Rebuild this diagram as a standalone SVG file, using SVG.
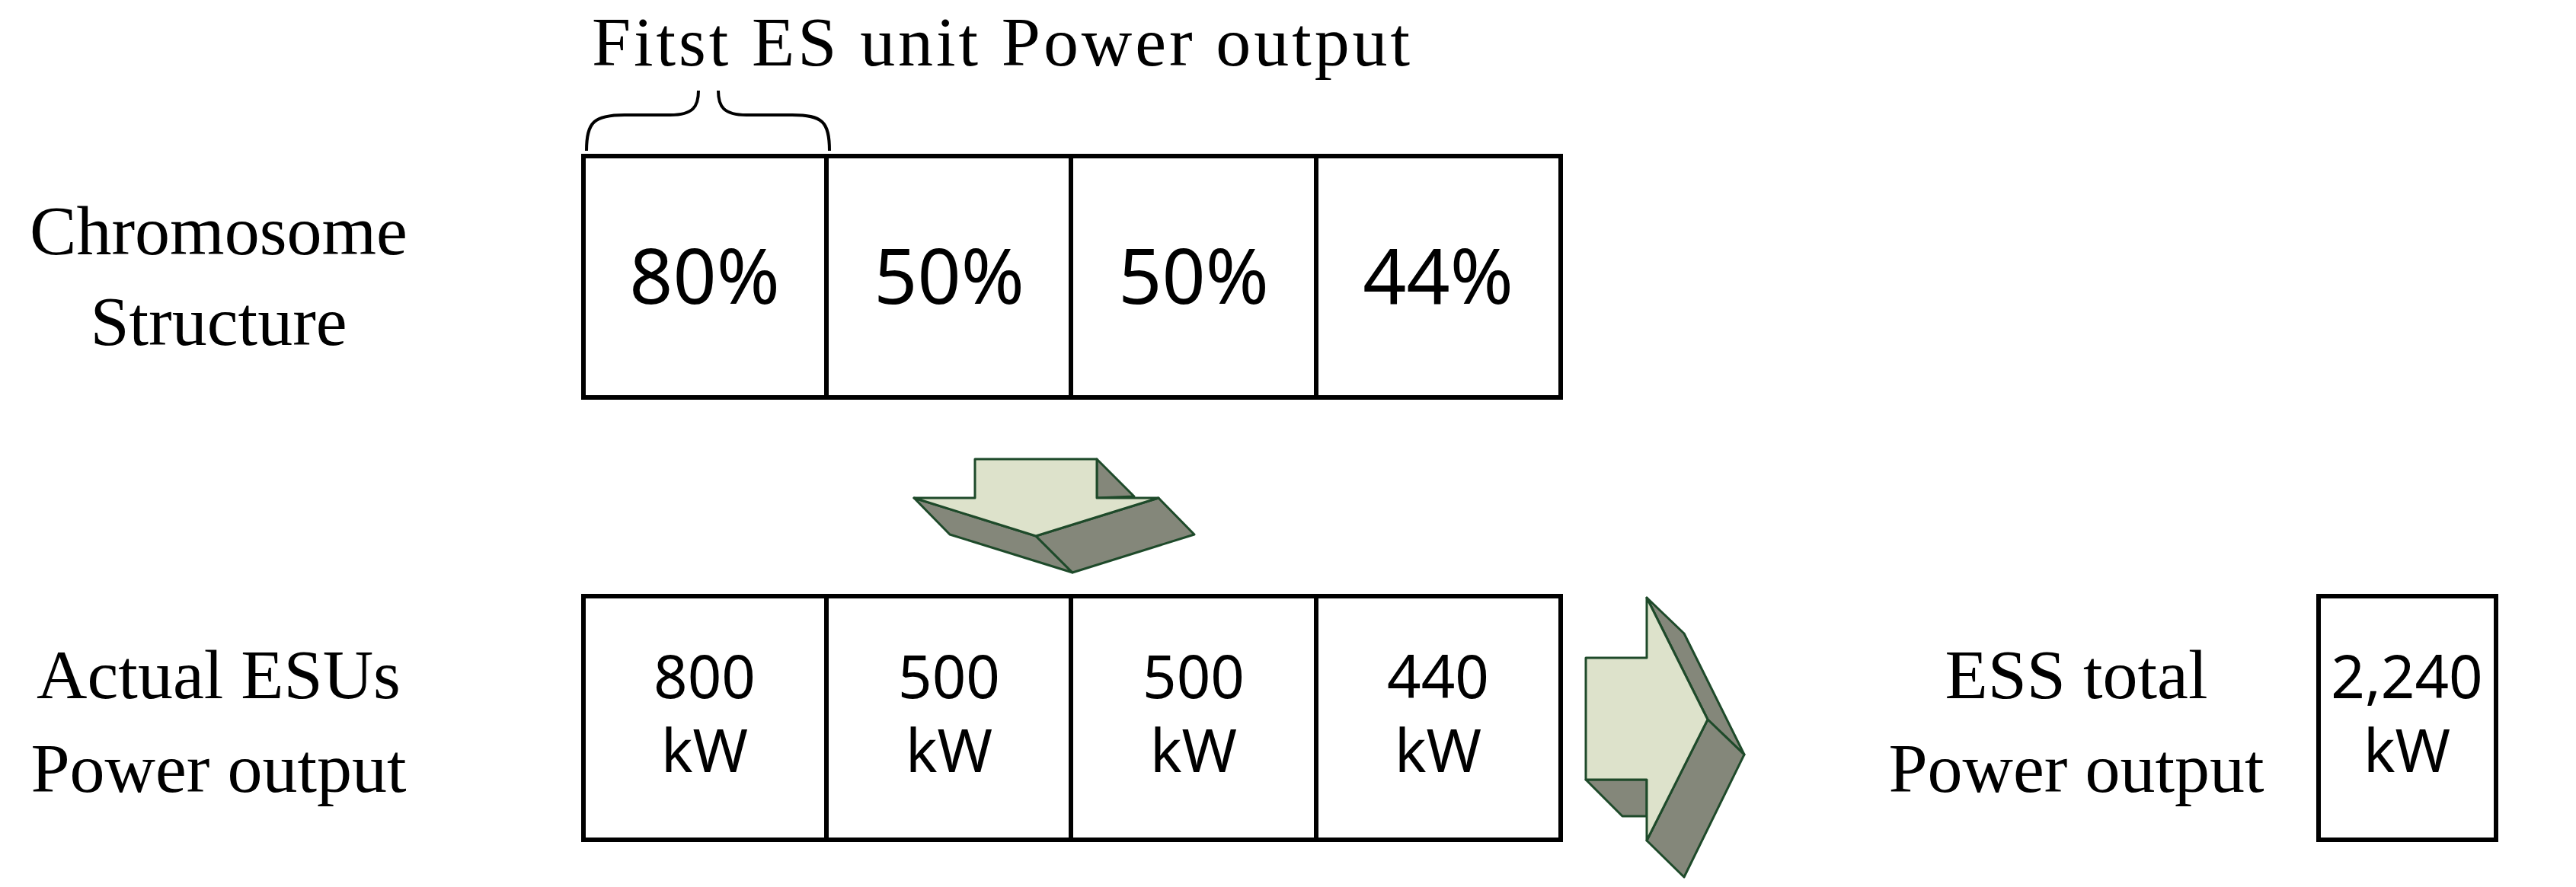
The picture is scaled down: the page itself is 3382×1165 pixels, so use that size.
<svg xmlns="http://www.w3.org/2000/svg" width="3382" height="1165" viewBox="0 0 3382 1165">
<style>
.box{fill:#fff;stroke:#000;stroke-width:6}
.ln{stroke:#000;stroke-width:6}
.ser{font-family:"Liberation Serif",serif;font-size:92px;text-anchor:middle;fill:#000}
.pct{font-family:"Noto Sans","Liberation Sans",sans-serif;font-size:100px;text-anchor:middle;fill:#000}
.kw{font-family:"Noto Sans","Liberation Sans",sans-serif;font-size:78px;text-anchor:middle;fill:#000}
.lt{fill:#DDE2CB;stroke:#1E4A2A;stroke-width:3;stroke-linejoin:round}
.dk{fill:#84877A;stroke:#1E4A2A;stroke-width:3;stroke-linejoin:round}
.br{fill:none;stroke:#000;stroke-width:4}
</style>
<g id="title"><text class="ser" x="1314" y="86" textLength="1074">Fitst ES unit Power output</text>
<path class="br" d="M770,198 C770,160 780,151 820,151 L880,151 C910,151 917,140 917,119 M943,119 C943,140 950,151 980,151 L1040,151 C1080,151 1089,160 1089,198"/></g>
<g id="label-chromosome"><text class="ser" x="287" y="334">Chromosome</text><text class="ser" x="287" y="453">Structure</text></g>
<g id="label-actual"><text class="ser" x="287" y="917">Actual ESUs</text><text class="ser" x="287" y="1040">Power output</text></g>
<g id="label-total"><text class="ser" x="2726" y="917">ESS total</text><text class="ser" x="2726" y="1040">Power output</text></g>
<g id="chromosome">
<rect class="box" x="766" y="205" width="1283" height="317"/>
<line class="ln" x1="1085" y1="205" x2="1085" y2="522"/><line class="ln" x1="1406" y1="205" x2="1406" y2="522"/><line class="ln" x1="1728" y1="205" x2="1728" y2="522"/>
<text class="pct" x="925" y="399">80%</text><text class="pct" x="1246" y="399">50%</text><text class="pct" x="1567" y="399">50%</text><text class="pct" x="1888" y="399">44%</text>
</g>
<g id="actual">
<rect class="box" x="766" y="783" width="1283" height="320"/>
<line class="ln" x1="1085" y1="783" x2="1085" y2="1103"/><line class="ln" x1="1406" y1="783" x2="1406" y2="1103"/><line class="ln" x1="1728" y1="783" x2="1728" y2="1103"/>
<text class="kw" x="925" y="917">800</text><text class="kw" x="925" y="1014">kW</text>
<text class="kw" x="1246" y="917">500</text><text class="kw" x="1246" y="1014">kW</text>
<text class="kw" x="1567" y="917">500</text><text class="kw" x="1567" y="1014">kW</text>
<text class="kw" x="1888" y="917">440</text><text class="kw" x="1888" y="1014">kW</text>
</g>
<g id="total">
<rect class="box" x="3044" y="783" width="233" height="320"/>
<text class="kw" x="3160" y="917">2,240</text><text class="kw" x="3160" y="1014">kW</text>
</g>
<g id="connectors">
<g id="arrow-down">
<polygon class="dk" points="1440,603 1489,652 1440,654"/>
<polygon class="dk" points="1200,654 1360,704 1408,752 1247,702"/>
<polygon class="dk" points="1360,704 1521,654 1568,702 1408,752"/>
<polygon class="lt" points="1200,654 1280,654 1280,603 1440,603 1440,654 1521,654 1360,704"/>
</g>
<g id="arrow-right">
<polygon class="dk" points="2082,1024 2130,1072 2162,1072 2162,1024"/>
<polygon class="dk" points="2162,785 2211,832 2290,991 2242,945"/>
<polygon class="dk" points="2242,945 2290,991 2211,1152 2162,1104"/>
<polygon class="lt" points="2082,864 2162,864 2162,785 2242,945 2162,1104 2162,1024 2082,1024"/>
</g>
</g>
</svg>
